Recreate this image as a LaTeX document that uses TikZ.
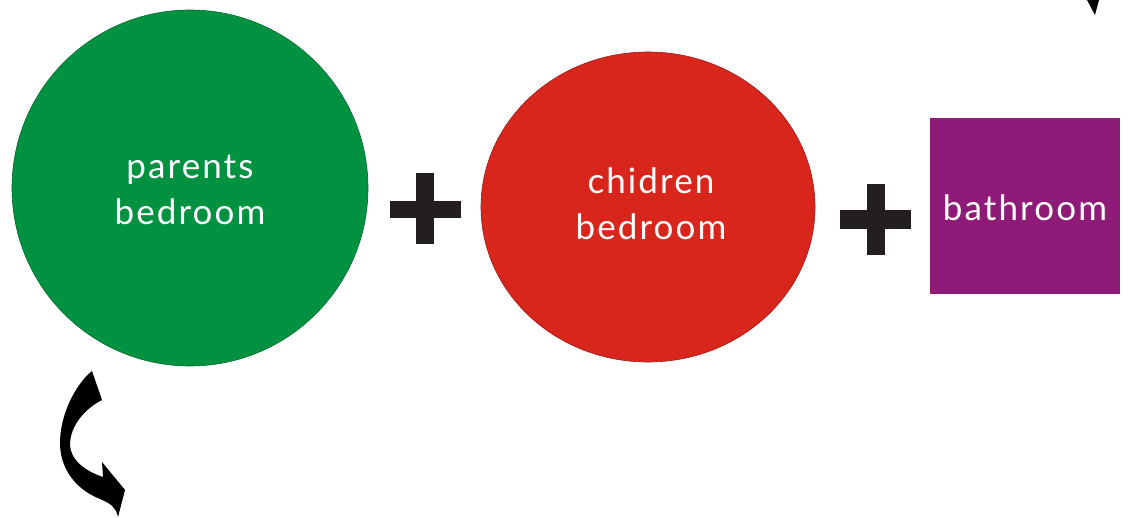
\documentclass[tikz,border=0pt]{standalone}
\usepackage{fontspec}
\setmainfont{Lato}
\newfontfamily\roomfont[LetterSpace=6]{Lato}
\definecolor{roomgreen}{RGB}{0,146,64}
\definecolor{roomred}{RGB}{217,38,29}
\definecolor{roompurple}{RGB}{142,27,119}
\definecolor{plusblack}{RGB}{35,31,32}
\tikzset{
  label/.style={text=white,font=\roomfont\fontsize{35}{46}\selectfont,align=center,inner sep=0pt},
  plusbar/.style={fill=plusblack,draw=none},
}
\begin{document}
\begin{tikzpicture}[x=1pt,y=-1pt]
\useasboundingbox (0,0) rectangle (1128,518);
\fill[white] (0,0) rectangle (1128,518);
% green circle
\fill[roomgreen,draw=roomgreen!70!black,line width=0.6pt] (190,188) circle (178);
\node[label] (parents) at (190,190) {parents\\bedroom};
% red ellipse
\fill[roomred,draw=roomred!70!black,line width=0.6pt] (648,207) ellipse (167 and 155);
\node[label] (children) at (651,204) {chidren\\bedroom};
% purple rectangle
\fill[roompurple] (930,118) rectangle (1120,294);
\node[label] (bath) at (1025,208) {bathroom};
% plus signs
\fill[plusbar] (416,173) rectangle (434,244);
\fill[plusbar] (390,201) rectangle (461,218);
\fill[plusbar] (867,184) rectangle (885,255);
\fill[plusbar] (840,210) rectangle (911,229);
% curved arrow bottom-left
\fill[black] (92,371) -- (102,400)
  .. controls (86,408) and (70,425) .. (70,445)
  .. controls (71,462) and (88,472) .. (103,477)
  -- (102,462) -- (125,490) -- (118,517)
  .. controls (116,508) and (112,504) .. (100,499)
  .. controls (75,489) and (60,468) .. (60,443)
  .. controls (60,415) and (75,385) .. (92,371) -- cycle;
% top-right arrow tip
\fill[black] (1087,0) -- (1099,0) -- (1095,15) -- cycle;
\end{tikzpicture}
\end{document}
